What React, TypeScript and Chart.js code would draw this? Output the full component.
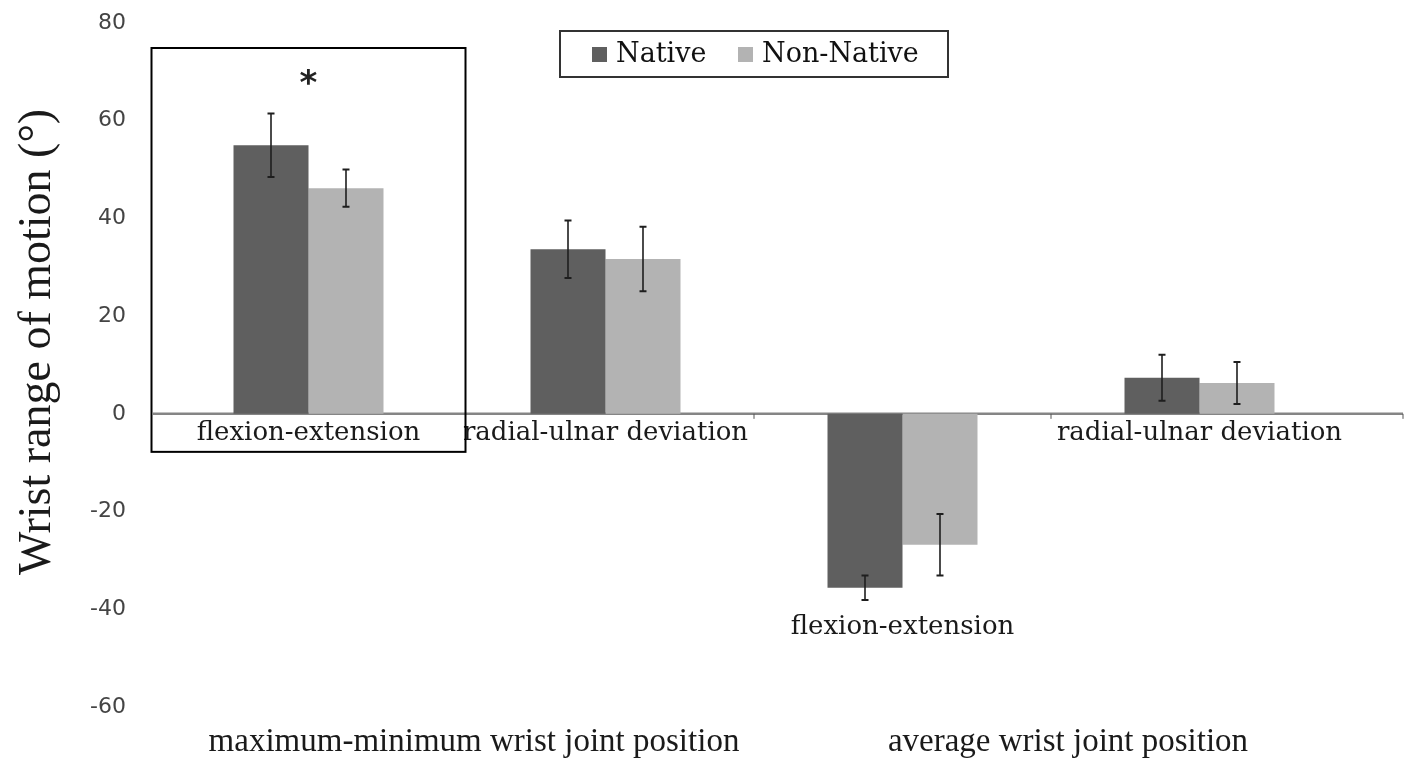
import React, { useEffect, useRef } from "react";
import { Chart, registerables } from "chart.js";

Chart.register(...registerables);

// Joint-motion categories (two per measurement group)
const categories = [
  "flexion-extension",
  "radial-ulnar deviation",
  "flexion-extension",
  "radial-ulnar deviation",
];
const groupLabels = [
  "maximum-minimum wrist joint position",
  "average wrist joint position",
];
const seriesNames = ["Native", "Non-Native"];

// Mean values (degrees)
const nativeValues = [55.0, 33.7, -35.6, 7.4];
const nonNativeValues = [46.2, 31.7, -26.8, 6.3];

// Standard deviations (degrees)
const nativeErrors = [6.5, 5.9, 2.5, 4.7];
const nonNativeErrors = [3.8, 6.6, 6.3, 4.3];

const yTicks = [-60, -40, -20, 0, 20, 40, 60, 80];

const NATIVE_COLOR = "#5f5f5f";
const NON_NATIVE_COLOR = "#b3b3b3";
const SERIF = "'DejaVu Serif', serif";

const annotations = {
  id: "wristAnnotations",
  beforeDatasetsDraw(chart: any) {
    const { ctx } = chart;
    const y = chart.scales.y;
    const x = chart.scales.x;
    const zero = y.getPixelForValue(0);
    const step = x.getPixelForValue(1) - x.getPixelForValue(0);
    ctx.save();
    ctx.strokeStyle = "#858585";
    ctx.lineWidth = 2.5;
    ctx.beginPath();
    ctx.moveTo(153, zero);
    ctx.lineTo(1403, zero);
    ctx.stroke();
    // small tick marks between categories
    ctx.lineWidth = 1;
    ctx.strokeStyle = "#555";
    [1, 2].forEach((i) => {
      const bx = x.getPixelForValue(i) + step / 2;
      ctx.beginPath();
      ctx.moveTo(bx, zero);
      ctx.lineTo(bx, zero + 5);
      ctx.stroke();
    });
    ctx.beginPath();
    ctx.moveTo(1403, zero);
    ctx.lineTo(1403, zero + 5);
    ctx.stroke();
    ctx.restore();
  },
  afterDatasetsDraw(chart: any) {
    const { ctx, chartArea } = chart;
    const y = chart.scales.y;
    const x = chart.scales.x;
    const zero = y.getPixelForValue(0);
    ctx.save();

    // error bars
    const errs = [nativeErrors, nonNativeErrors];
    const vals = [nativeValues, nonNativeValues];
    [0, 1].forEach((d) => {
      const meta = chart.getDatasetMeta(d);
      meta.data.forEach((bar: any, i: number) => {
        const v = vals[d][i];
        const e = errs[d][i];
        const top = y.getPixelForValue(v + e);
        const bot = y.getPixelForValue(v - e);
        ctx.strokeStyle = "#1e1e1e";
        ctx.lineWidth = 1.6;
        ctx.beginPath();
        ctx.moveTo(bar.x, top);
        ctx.lineTo(bar.x, bot);
        ctx.stroke();
        ctx.lineWidth = 2;
        ctx.beginPath();
        ctx.moveTo(bar.x - 3.5, top);
        ctx.lineTo(bar.x + 3.5, top);
        ctx.moveTo(bar.x - 3.5, bot);
        ctx.lineTo(bar.x + 3.5, bot);
        ctx.stroke();
      });
    });

    // category labels
    ctx.fillStyle = "#1a1a1a";
    ctx.font = `26px ${SERIF}`;
    ctx.textAlign = "center";
    ctx.textBaseline = "middle";
    categories.forEach((c, i) => {
      const cx = x.getPixelForValue(i);
      let cy = zero + 19;
      const low = Math.min(nativeValues[i] - nativeErrors[i], nonNativeValues[i] - nonNativeErrors[i]);
      if (nativeValues[i] < 0) cy = y.getPixelForValue(low) + 27;
      ctx.fillText(c, cx, cy);
    });

    // group labels along the bottom
    ctx.font = `33px 'Liberation Serif', serif`;
    ctx.fillStyle = "#1a1a1a";
    groupLabels.forEach((g, k) => {
      const cx = (x.getPixelForValue(2 * k) + x.getPixelForValue(2 * k + 1)) / 2 + 17;
      ctx.fillText(g, cx, 742);
    });

    // highlight box around the first category
    const c0 = x.getPixelForValue(0);
    ctx.strokeStyle = "#000";
    ctx.lineWidth = 2;
    ctx.strokeRect(c0 - 157, chartArea.top + 25, 314, zero + 38 - (chartArea.top + 25));

    // significance marker
    ctx.font = `bold 34px 'DejaVu Sans', sans-serif`;
    ctx.textBaseline = "alphabetic";
    ctx.fillStyle = "#222";
    ctx.fillText("*", c0, 94);

    // legend
    ctx.strokeStyle = "#333";
    ctx.lineWidth = 2;
    ctx.strokeRect(560, 31, 388, 46);
    ctx.textAlign = "left";
    ctx.textBaseline = "middle";
    ctx.font = `27px ${SERIF}`;
    ctx.fillStyle = NATIVE_COLOR;
    ctx.fillRect(592, 47, 15, 15);
    ctx.fillStyle = "#111";
    ctx.fillText(seriesNames[0], 616, 55);
    ctx.fillStyle = NON_NATIVE_COLOR;
    ctx.fillRect(738, 47, 15, 15);
    ctx.fillStyle = "#111";
    ctx.fillText(seriesNames[1], 762, 55);

    // y-axis title
    ctx.save();
    ctx.translate(50, 342);
    ctx.rotate(-Math.PI / 2);
    ctx.textAlign = "center";
    ctx.textBaseline = "alphabetic";
    ctx.font = `46px 'Liberation Serif', serif`;
    ctx.fillStyle = "#1a1a1a";
    ctx.fillText("Wrist range of motion (°)", 0, 0);
    ctx.restore();

    ctx.restore();
  },
};

export default function App() {
  const ref = useRef<HTMLCanvasElement>(null);
  useEffect(() => {
    if (!ref.current) return;
    const chart = new Chart(ref.current, {
      type: "bar",
      data: {
        labels: categories,
        datasets: [
          {
            label: seriesNames[0],
            data: nativeValues,
            backgroundColor: NATIVE_COLOR,
            categoryPercentage: 0.505,
            barPercentage: 1.0,
          },
          {
            label: seriesNames[1],
            data: nonNativeValues,
            backgroundColor: NON_NATIVE_COLOR,
            categoryPercentage: 0.505,
            barPercentage: 1.0,
          },
        ],
      },
      options: {
        animation: false,
        responsive: false,
        layout: { padding: { left: 0, right: 57, top: 23, bottom: 52 } },
        plugins: { legend: { display: false }, tooltip: { enabled: false } },
        scales: {
          x: { display: false },
          y: {
            min: yTicks[0],
            max: yTicks[yTicks.length - 1],
            afterBuildTicks: (s: any) => {
              s.ticks = yTicks.map((v) => ({ value: v }));
            },
            afterFit: (s: any) => {
              s.width = 160;
              s.paddingTop = 0;
              s.paddingBottom = 0;
            },
            grid: { display: false, drawTicks: false },
            border: { display: false },
            ticks: {
              padding: 34,
              color: "#444",
              font: { family: "'DejaVu Sans', sans-serif", size: 22 },
            },
          },
        },
      },
      plugins: [annotations],
    });
    return () => chart.destroy();
  }, []);
  return (
    <div style={{ position: "absolute", left: 0, top: 0, width: 1405, height: 759, background: "#fff" }}>
      <canvas ref={ref} width={1405} height={759} />
    </div>
  );
}
